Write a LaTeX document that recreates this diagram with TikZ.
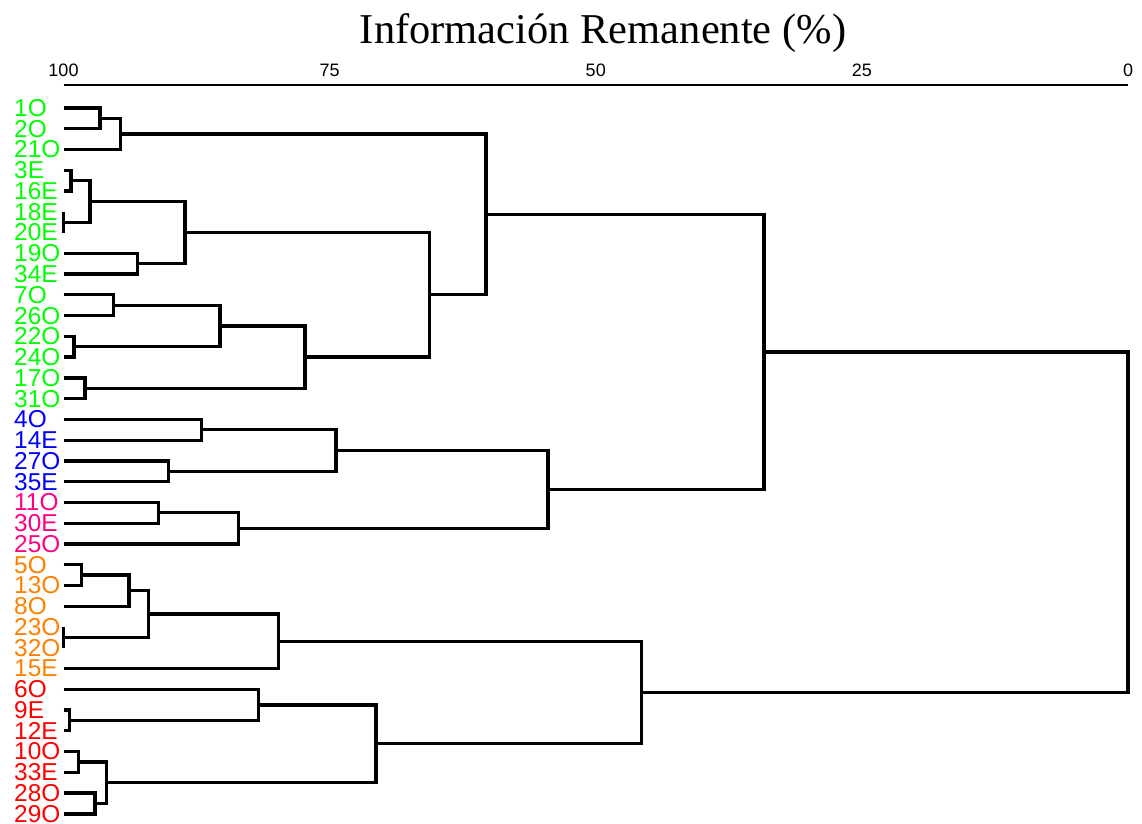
\documentclass[tikz,border=0pt]{standalone}
\usepackage{fontspec}
\setmainfont{Liberation Serif}
\newfontfamily\arialfont{Liberation Sans}
\usetikzlibrary{calc}

\definecolor{grn}{RGB}{0,255,0}
\definecolor{blu}{RGB}{0,0,255}
\definecolor{pnk}{RGB}{255,0,128}
\definecolor{org}{RGB}{255,128,0}
\definecolor{rd}{RGB}{255,0,0}

% percent of remaining information -> x
\newcommand{\pct}[1]{63.5+(100-#1)*10.645}
% join two clusters at a given percent
\newcommand{\joinat}[4]{
    \path let \p1=($(#2)!0.5!(#3)$) in ({(\pct{#4})*1pt},\y1) coordinate (#1);
    \draw[branch] (#2) -- (#2 -| #1) -- (#3 -| #1) -- (#3);
}

\begin{document}
\begin{tikzpicture}[x=1pt, y=-1pt]
        \tikzstyle{branch}=[line width=3.3pt, line join=miter]
        \tikzstyle{leaf}=[anchor=west, inner sep=0pt, font=\arialfont\fontsize{24.4}{24.4}\selectfont]
        \tikzstyle{tick}=[inner sep=0pt, font=\arialfont\fontsize{18}{18}\selectfont]

        \useasboundingbox (0,0) rectangle (1142,823);

        \node[font=\fontsize{42.5}{42.5}\selectfont, anchor=base] (T) at (603,43.3) {Información Remanente (\%)};
        \draw[line width=1.5pt] ({\pct{100}},85) -- ({\pct{0}},85);
        \foreach \v in {100,75,50,25,0}
            \node[tick] (t\v) at ({\pct{\v}},70) {\v};

        \foreach \lab/\col [count=\i from 0] in {1O/grn,2O/grn,21O/grn,3E/grn,16E/grn,18E/grn,20E/grn,19O/grn,34E/grn,
            7O/grn,26O/grn,22O/grn,24O/grn,17O/grn,31O/grn,4O/blu,14E/blu,27O/blu,35E/blu,11O/pnk,30E/pnk,25O/pnk,
            5O/org,13O/org,8O/org,23O/org,32O/org,15E/org,6O/rd,9E/rd,12E/rd,10O/rd,33E/rd,28O/rd,29O/rd} {
            \node[leaf, text=\col] (n\i) at (14,{108+20.76*\i}) {\lab};
            \coordinate (l\i) at ({\pct{100}},{108+20.76*\i});
        }

        \joinat{m1}{l0}{l1}{96.57}
        \joinat{m2}{m1}{l2}{94.63}
        \joinat{m3}{l3}{l4}{99.30}
        \joinat{m4}{l5}{l6}{100}
        \joinat{m5}{m3}{m4}{97.51}
        \joinat{m6}{l7}{l8}{93.03}
        \joinat{m7}{m5}{m6}{88.59}
        \joinat{m8}{l9}{l10}{95.32}
        \joinat{m9}{l11}{l12}{99.01}
        \joinat{m10}{m8}{m9}{85.30}
        \joinat{m11}{l13}{l14}{97.98}
        \joinat{m12}{m10}{m11}{77.31}
        \joinat{m13}{m7}{m12}{65.64}
        \joinat{m14}{m2}{m13}{60.31}
        \joinat{m15}{l15}{l16}{87.02}
        \joinat{m16}{l17}{l18}{90.16}
        \joinat{m17}{m15}{m16}{74.40}
        \joinat{m18}{l19}{l20}{91.09}
        \joinat{m19}{m18}{l21}{83.58}
        \joinat{m20}{m17}{m19}{54.49}
        \joinat{m21}{m14}{m20}{34.19}
        \joinat{m22}{l22}{l23}{98.29}
        \joinat{m23}{m22}{l24}{93.85}
        \joinat{m24}{l25}{l26}{100}
        \joinat{m25}{m23}{m24}{92.03}
        \joinat{m26}{m25}{l27}{79.82}
        \joinat{m27}{l29}{l30}{99.46}
        \joinat{m28}{l28}{m27}{81.70}
        \joinat{m29}{l31}{l32}{98.61}
        \joinat{m30}{l33}{l34}{97.04}
        \joinat{m31}{m29}{m30}{95.94}
        \joinat{m32}{m28}{m31}{70.64}
        \joinat{m33}{m26}{m32}{45.68}
        \joinat{m34}{m21}{m33}{0}
    \end{tikzpicture}
\end{document}
